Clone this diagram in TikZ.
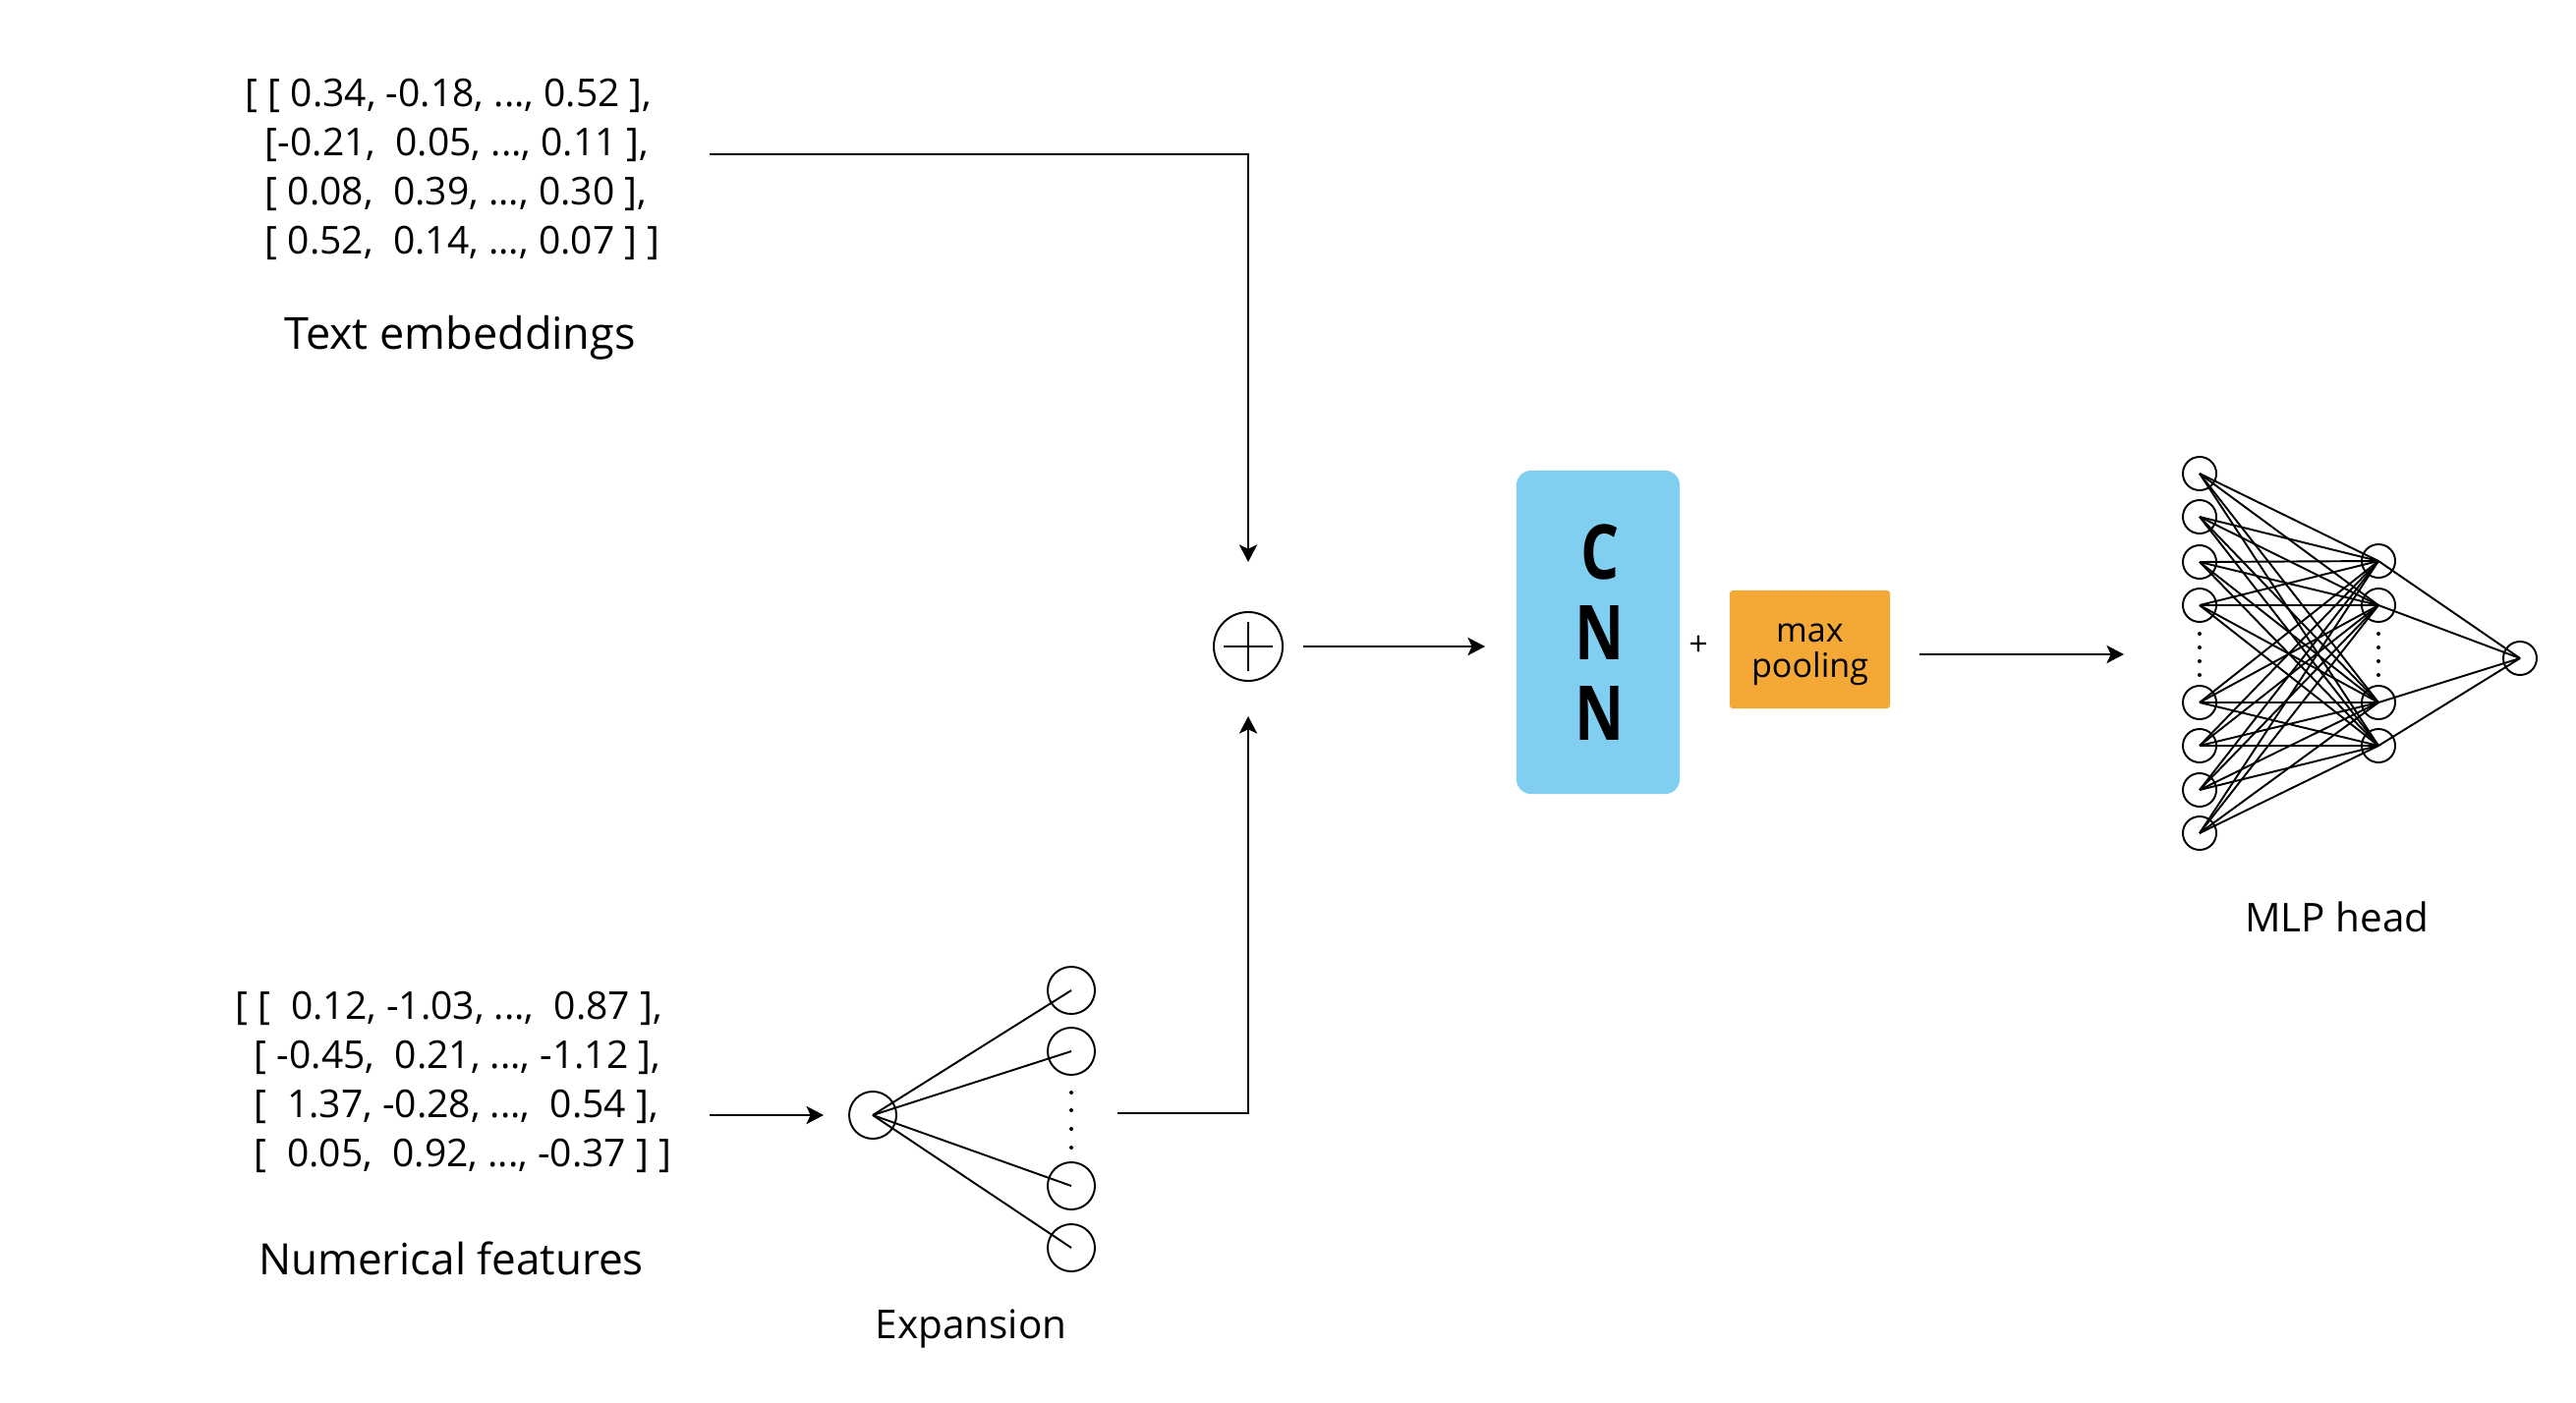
\documentclass[tikz,border=0pt]{standalone}
\usepackage{fontspec}
\setmainfont{Open Sans}
\usetikzlibrary{arrows.meta}
\definecolor{cnnblue}{HTML}{81CFF0}
\definecolor{poolorange}{HTML}{F4A836}
\newcommand{\numfont}{\fontsize{11.1pt}{13pt}\selectfont}
\newcommand{\ttlfont}{\fontsize{12.8pt}{15pt}\selectfont}
\newcommand{\nfttlfont}{\fontsize{12.5pt}{15pt}\selectfont}
\newcommand{\lblfont}{\fontsize{11.5pt}{14pt}\selectfont}
\newcommand{\poolfont}{\fontsize{9.7pt}{11pt}\selectfont}
\newcommand{\cnnfont}{\fontsize{21.9pt}{24pt}\selectfont\bfseries}
\newcommand{\cnnletter}[1]{\scalebox{0.8}[1]{#1}}
\begin{document}
\begin{tikzpicture}[x=0.01cm,y=-0.01cm, line width=0.55pt,
  arr/.style={-{Stealth[length=5pt,width=5.2pt,inset=1.2pt]}},
  numline/.style={anchor=base west, inner sep=0pt, font=\numfont},
  ttl/.style={anchor=base, inner sep=0pt, font=\ttlfont},
  lbl/.style={anchor=base, inner sep=0pt, font=\lblfont},
  neuron/.style={circle, draw, minimum size=0.34cm, inner sep=0pt},
  expn/.style={circle, draw, minimum size=0.48cm, inner sep=0pt},
  dotmark/.style={circle, fill, minimum size=0.04cm, inner sep=0pt},
  cnnl/.style={inner sep=0pt, font=\cnnfont},
  ptxt/.style={anchor=base, inner sep=0pt, font=\poolfont}
]
\useasboundingbox (0,0) rectangle (2621,1427);

% Text embeddings block
\node[numline] (te1) at (249,108) {[ [ 0.34, -0.18, ..., 0.52 ],};
\node[numline] (te2) at (269,158) {[-0.21, \ 0.05, ..., 0.11 ],};
\node[numline] (te3) at (269,208) {[ 0.08, \ 0.39, ..., 0.30 ],};
\node[numline] (te4) at (269,258) {[ 0.52, \ 0.14, ..., 0.07 ] ]};
\node[ttl] (tetitle) at (468,355) {Text embeddings};
\coordinate (teout) at (722,157);

% Numerical features block
\node[numline] (nf1) at (239,1037) {[ [ \ 0.12, -1.03, ..., \ 0.87 ],};
\node[numline] (nf2) at (258,1087) {[ -0.45, \ 0.21, ..., -1.12 ],};
\node[numline] (nf3) at (258,1137) {[ \ 1.37, -0.28, ..., \ 0.54 ],};
\node[numline] (nf4) at (258,1187) {[ \ 0.05, \ 0.92, ..., -0.37 ] ]};
\node[ttl, font=\nfttlfont] (nftitle) at (459,1297) {Numerical features};
\coordinate (nfout) at (722,1135);

% Expansion
\node[expn] (ein) at (888,1135) {};
\node[expn] (e1) at (1090,1008) {};
\node[expn] (e2) at (1090,1070) {};
\node[expn] (e3) at (1090,1207) {};
\node[expn] (e4) at (1090,1270) {};
\foreach \i in {1,2,3,4} \draw (ein.center) -- (e\i.center);
\foreach \y [count=\k] in {1112,1130,1149,1168} \node[dotmark] (ed\k) at (1090,\y) {};
\node[lbl] (exptitle) at (988,1362) {Expansion};
\coordinate (expout) at (1137,1133);

% Plus
\node[circle, draw, minimum size=0.70cm, inner sep=0pt] (plus) at (1270,658) {};
\draw ([xshift=-0.25cm]plus.center) -- ([xshift=0.25cm]plus.center);
\draw ([yshift=-0.25cm]plus.center) -- ([yshift=0.25cm]plus.center);

% CNN and pooling
\node[fill=cnnblue, rounded corners=0.15cm, minimum width=1.66cm, minimum height=3.29cm, inner sep=0pt] (cnn) at (1626,643.5) {};
\node[cnnl] (cnnc) at (1628,562) {\cnnletter{C}};
\node[cnnl] (cnnn1) at (1628,644) {\cnnletter{N}};
\node[cnnl] (cnnn2) at (1628,726) {\cnnletter{N}};
\node[inner sep=0pt, font=\poolfont] (plussign) at (1728,657) {+};
\node[fill=poolorange, rounded corners=0.03cm, minimum width=1.63cm, minimum height=1.20cm, inner sep=0pt] (pool) at (1841.5,661) {};
\node[ptxt] (ptmax) at (1841.5,653) {max};
\node[ptxt] (ptpool) at (1841.5,689) {pooling};
\coordinate (mlpin) at (2161,666);

% MLP head
\foreach \y [count=\k] in {482,526,572,616,715,759,804,848} \node[neuron] (i\k) at (2238,\y) {};
\foreach \y [count=\k] in {571,616,715,759} \node[neuron] (h\k) at (2420,\y) {};
\node[neuron] (o) at (2564,670) {};
\foreach \y [count=\k] in {645,659,673,687} {
  \node[dotmark] (id\k) at (2238,\y) {};
  \node[dotmark] (hd\k) at (2420,\y) {};
}
\foreach \a in {1,...,8} \foreach \b in {1,...,4} \draw (i\a.center) -- (h\b.center);
\foreach \b in {1,...,4} \draw (h\b.center) -- (o.center);
\node[lbl] (mlptitle) at (2378,948) {MLP head};

% Connectors
\draw[arr, shorten >=0.5cm] (teout) -| (plus);
\draw[arr, shorten >=0.35cm] (expout) -| (plus);
\draw[arr, shorten >=0.25cm] (nfout) -- (ein);
\draw[arr, shorten <=0.2cm, shorten >=0.31cm] (plus) -- (plus -| cnn.west);
\draw[arr, shorten <=0.29cm] (pool.east |- mlpin) -- (mlpin);
\end{tikzpicture}
\end{document}
